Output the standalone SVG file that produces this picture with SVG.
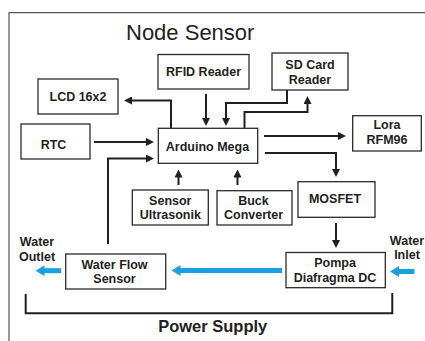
<svg xmlns="http://www.w3.org/2000/svg" width="425" height="341" viewBox="0 0 425 341">
<defs>
<style>
.box{fill:#fff;stroke:#2b2b2b;stroke-width:1.3}
.t{font-family:"Liberation Sans",Arial,sans-serif;font-weight:bold;font-size:12.5px;fill:#231f20;text-anchor:middle}
.c{fill:none;stroke:#231f20;stroke-width:2}
.b{fill:none;stroke:#1a9fe0;stroke-width:5}
</style>
<marker id="ah" viewBox="0 0 8 8" refX="0.5" refY="4" markerWidth="8" markerHeight="8" markerUnits="userSpaceOnUse" orient="auto">
<path d="M0,0 L8,4 L0,8 z" fill="#231f20"/>
</marker>
<marker id="bh" viewBox="0 0 9 11" refX="0.5" refY="5.5" markerWidth="9" markerHeight="11" markerUnits="userSpaceOnUse" orient="auto">
<path d="M0,0 L9,5.5 L0,11 z" fill="#1a9fe0"/>
</marker>
</defs>
<rect width="425" height="341" fill="#fff"/>
<path d="M9,341 V12.7 H425" fill="none" stroke="#555" stroke-width="1.2"/>
<text x="126" y="40" style="font-family:'Liberation Sans',Arial,sans-serif;font-size:22px;fill:#231f20">Node Sensor</text>

<g id="connectors">
<path class="c" d="M171,128 V100.5 H131.5" marker-end="url(#ah)"/>
<path class="c" d="M206,94 V118.5" marker-end="url(#ah)"/>
<path class="c" d="M287,90 V103 H226 V118.5" marker-end="url(#ah)"/>
<path class="c" d="M244.5,128 V112 H307.5 V103.5" marker-end="url(#ah)"/>
<path class="c" d="M94,142 H146.5" marker-end="url(#ah)"/>
<path class="c" d="M108,244 V158.5 H146.5" marker-end="url(#ah)"/>
<path class="c" d="M264,136 H338.5" marker-end="url(#ah)"/>
<path class="c" d="M265,153 H336 V169.5" marker-end="url(#ah)"/>
<path class="c" d="M336,223 V240.5" marker-end="url(#ah)"/>
<path class="c" d="M178.5,185 V177" marker-end="url(#ah)"/>
<path class="c" d="M237.5,185 V177" marker-end="url(#ah)"/>
<path class="b" d="M414.5,271.5 H398.5" marker-end="url(#bh)"/>
<path class="b" d="M282,270.5 H180" marker-end="url(#bh)"/>
<path class="b" d="M61,270.7 H44" marker-end="url(#bh)"/>
<path class="c" d="M25.7,294 V313.3 H392.3 V293"/>
</g>

<g id="rfid"><rect class="box" x="158" y="54.5" width="91" height="34.5"/><text class="t" x="203.5" y="76">RFID Reader</text></g>
<g id="sdcard"><rect class="box" x="272" y="53" width="76" height="37"/><text class="t" x="310" y="69">SD Card</text><text class="t" x="310" y="84.3">Reader</text></g>
<g id="lcd"><rect class="box" x="38" y="79" width="80" height="35"/><text class="t" x="78" y="101">LCD 16x2</text></g>
<g id="rtc"><rect class="box" x="21" y="124" width="69" height="35"/><text class="t" x="53.5" y="148.5">RTC</text></g>
<g id="arduino"><rect class="box" x="158.3" y="128.3" width="99.4" height="35"/><text class="t" x="207.5" y="150.5">Arduino Mega</text></g>
<g id="lora"><rect class="box" x="352.7" y="115.7" width="68.6" height="35.3"/><text class="t" x="387" y="129.3">Lora</text><text class="t" x="387" y="144.3">RFM96</text></g>
<g id="ultrasonik"><rect class="box" x="132.3" y="190" width="76" height="35"/><text class="t" x="170.3" y="205">Sensor</text><text class="t" x="170.3" y="219.3">Ultrasonik</text></g>
<g id="buck"><rect class="box" x="217" y="190.7" width="75" height="34.3"/><text class="t" x="253.5" y="205">Buck</text><text class="t" x="253.5" y="219.3">Converter</text></g>
<g id="mosfet"><rect class="box" x="298" y="181.7" width="77" height="35.6"/><text class="t" x="335" y="203.3">MOSFET</text></g>
<g id="pompa"><rect class="box" x="286" y="252.5" width="99.3" height="35.2"/><text class="t" x="335" y="267.3">Pompa</text><text class="t" x="335" y="281.7">Diafragma DC</text></g>
<g id="waterflow"><rect class="box" x="65.7" y="254" width="100" height="35"/><text class="t" x="114.5" y="269">Water Flow</text><text class="t" x="114.5" y="283.3">Sensor</text></g>
<g id="outlet"><text class="t" x="37" y="245.7">Water</text><text class="t" x="37" y="260.7">Outlet</text></g>
<g id="inlet"><text class="t" x="407" y="244.5">Water</text><text class="t" x="407" y="258.5">Inlet</text></g>
<g id="power"><text class="t" x="212.7" y="332" style="font-size:16.5px">Power Supply</text></g>
</svg>
